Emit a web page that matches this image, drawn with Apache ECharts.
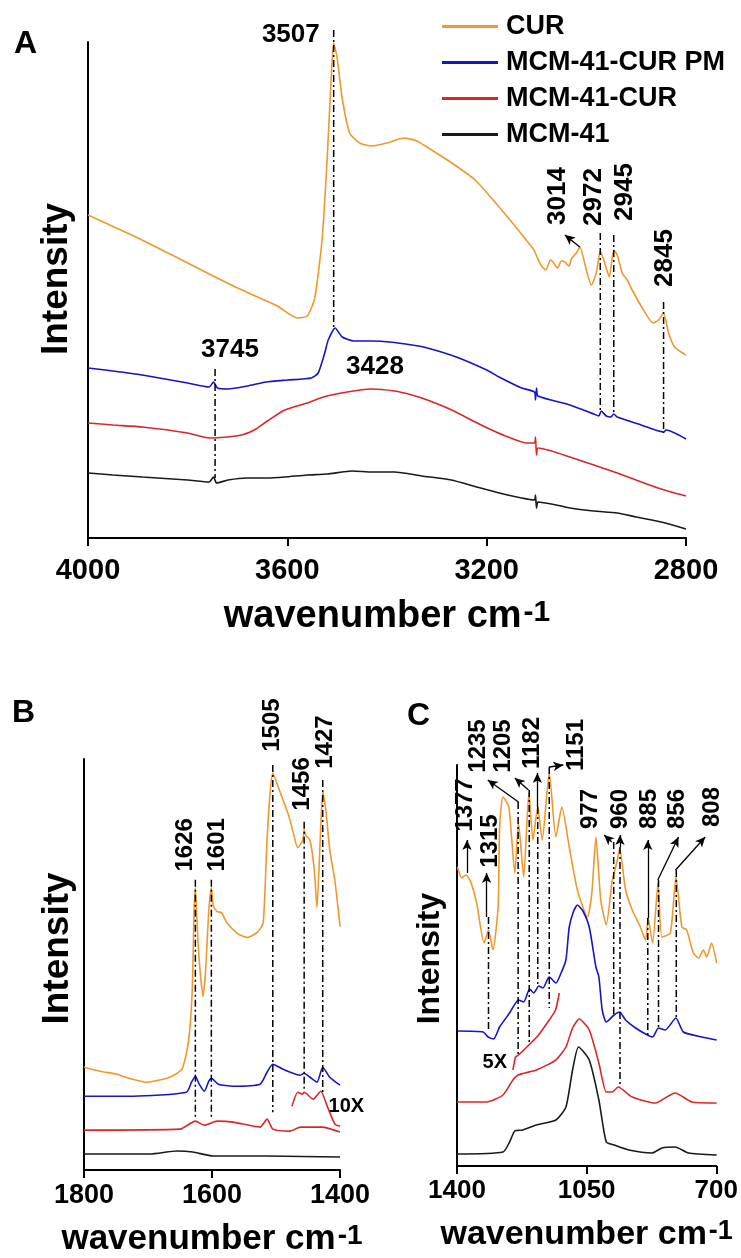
<!DOCTYPE html>
<html><head><meta charset="utf-8">
<script src="https://cdn.jsdelivr.net/npm/echarts/dist/echarts.min.js"></script>
<style>html,body{margin:0;padding:0;background:#fff}#c{width:741px;height:1258px}</style>
</head><body><div id="c"></div>
<script>
// ---------- DATA (wavenumber cm-1, relative intensity) ----------
const seriesNames = ['CUR', 'MCM-41-CUR PM', 'MCM-41-CUR', 'MCM-41'];
const seriesColors = ['#F0982B', '#1414CC', '#DC2626', '#1a1a1a'];

// Panel A: 4000-2800
const curA = [[4000,323],[3900,300],[3800,275],[3700,250],[3620,232],[3580,220],[3560,222],[3545,240],[3530,300],[3520,380],[3512,460],[3507,495],[3500,480],[3490,440],[3475,405],[3455,395],[3430,392],[3400,395],[3366,400],[3340,397],[3320,391],[3270,375],[3223,358],[3175,331],[3140,310],[3105,288],[3099,281],[3090,272],[3081,268],[3072,278],[3067,276],[3058,270],[3050,277],[3043,276],[3035,272],[3029,280],[3020,285],[3013,291],[3000,268],[2990,253],[2980,265],[2972,287],[2963,275],[2954,261],[2945,288],[2938,283],[2928,265],[2918,258],[2908,248],[2890,232],[2866,215],[2855,218],[2845,225],[2835,205],[2823,191],[2810,186],[2800,183]];
const pmA = [[4000,170],[3950,167],[3891,163],[3800,155],[3757,151],[3748,156],[3740,150],[3719,149],[3680,152],[3643,156],[3600,158],[3552,160],[3538,165],[3525,185],[3518,198],[3504,210],[3490,201],[3466,197],[3430,197],[3394,196],[3350,193],[3319,190],[3261,181],[3200,168],[3175,161],[3130,150],[3104,146],[3102,138],[3100,150],[3097,142],[3033,133],[2985,124],[2975,122],[2970,127],[2960,122],[2951,121],[2945,124],[2938,121],[2890,113],[2845,106],[2840,108],[2800,99]];
const mcmCurA = [[4000,115],[3950,113],[3891,111],[3800,105],[3757,100],[3720,101],[3692,103],[3666,108],[3640,117],[3605,128],[3560,135],[3528,141],[3480,146],[3433,149],[3385,147],[3350,143],[3319,138],[3270,128],[3223,116],[3190,108],[3157,101],[3120,95],[3104,95],[3102,101],[3100,83],[3097,90],[3070,87],[3033,81],[2985,73],[2938,65],[2900,58],[2862,51],[2830,46],[2800,42]];
const mcmA = [[4000,65],[3950,63],[3891,61],[3800,58],[3757,56],[3748,61],[3742,55],[3719,58],[3680,60],[3640,60],[3605,61],[3560,63],[3520,64],[3470,67],[3430,66],[3385,66],[3330,62],[3271,58],[3220,51],[3175,45],[3130,40],[3104,38],[3102,43],[3100,30],[3097,36],[3060,33],[3033,30],[2985,27],[2938,25],[2900,21],[2842,15],[2800,9]];

// Panel B: 1800-1400
const curB = [[1800,103],[1775,99],[1748,96],[1740,94],[1702,88],[1666,93],[1647,101],[1637,128],[1631,178],[1628,260],[1626,283],[1622,230],[1618,195],[1614,174],[1610,200],[1605,260],[1601,283],[1598,265],[1592,259],[1585,258],[1577,248],[1560,237],[1545,233],[1528,239],[1520,248],[1514,331],[1509,380],[1505,398],[1497,385],[1489,371],[1480,355],[1473,338],[1466,323],[1458,331],[1456,341],[1453,335],[1447,331],[1440,300],[1436,263],[1431,330],[1427,379],[1422,360],[1416,321],[1408,290],[1400,244]];
const pmB = [[1800,74],[1723,74],[1640,78],[1632,88],[1626,94],[1620,86],[1612,79],[1605,89],[1601,92],[1590,86],[1567,84],[1525,86],[1514,98],[1505,106],[1489,101],[1462,95],[1456,97],[1447,93],[1436,88],[1427,103],[1416,93],[1400,85]];
const mcmCurB = [[1800,40],[1650,41],[1626,49],[1612,45],[1592,49],[1567,48],[1525,43],[1514,51],[1505,41],[1478,39],[1462,43],[1428,43],[1400,38]];
const mcmCurB10x = [[1475,64],[1466,78],[1459,76],[1456,78],[1442,71],[1430,79],[1420,64],[1408,46],[1400,44]];
const mcmB = [[1800,16],[1697,16],[1655,19],[1630,18],[1598,14],[1514,14],[1400,13]];

// Panel C: 1400-700
const curC = [[1399,299],[1387,288],[1376,291],[1365,286],[1347,263],[1327,223],[1315,236],[1303,216],[1289,259],[1285,339],[1276,369],[1260,359],[1244,293],[1234,343],[1220,289],[1206,373],[1195,326],[1182,359],[1170,326],[1151,393],[1133,329],[1117,359],[1097,319],[1075,276],[1048,249],[1036,273],[1025,329],[1012,266],[997,241],[982,283],[976,293],[967,306],[961,318],[945,276],[927,256],[905,239],[891,226],[884,248],[872,223],[857,284],[847,229],[824,233],[809,289],[793,239],[780,236],[762,213],[748,208],[735,216],[726,209],[713,223],[699,203]];
const pmC = [[1399,135],[1329,134],[1316,129],[1301,127],[1285,139],[1258,153],[1234,166],[1220,164],[1204,177],[1193,173],[1179,180],[1168,178],[1151,189],[1133,183],[1119,193],[1106,206],[1097,239],[1085,255],[1075,261],[1060,255],[1043,239],[1025,199],[1017,189],[1008,156],[997,144],[976,151],[961,154],[945,146],[918,138],[886,131],[872,129],[856,138],[838,136],[809,148],[789,134],[739,129],[699,126]];
const mcmCurC = [[1400,64],[1320,64],[1276,71],[1249,86],[1235,91],[1186,96],[1133,106],[1106,119],[1088,138],[1070,147],[1043,136],[1017,103],[997,74],[981,74],[965,79],[927,69],[865,63],[811,73],[766,64],[699,63]];
const mcmCurC5x = [[1249,96],[1242,109],[1234,111],[1206,121],[1182,130],[1151,146],[1134,156],[1124,173]];
const mcmC = [[1400,12],[1276,14],[1258,24],[1244,35],[1222,36],[1186,41],[1133,46],[1106,59],[1088,96],[1072,119],[1043,106],[1017,66],[997,24],[976,21],[936,16],[874,13],[847,18],[811,19],[775,13],[699,11]];

// Axis tick settings
const axisA = {min: 2800, max: 4000, interval: 400};
const axisB = {min: 1400, max: 1800, interval: 200};
const axisC = {min: 700, max: 1400, interval: 350};

// Peak annotations: labels [wn, intensity, text, rotate], dash-dot lines [wn, from, to], arrows [[wn,y],[wn,y]]
const labelsA = [[3593,503,'3507',0],[3715,188,'3745',0],[3424,171,'3428',0],[3057,342,'3014',90],[2985,341,'2972',90],[2922,346,'2945',90],[2842,280,'2845',90]];
const linesA = [[3507,508,208],[3745,169,60],[2972,305,128],[2945,303,123],[2845,236,105]];
const arrowsA = [[[3013,291],[3043,303]]];

const labelsB = [[1642,326,'1626',90],[1591,326,'1601',90],[1505,446,'1505',90],[1459,387,'1456',90],[1423,429,'1427',90]];
const linesB = [[1626,291,53],[1601,291,53],[1505,406,58],[1456,349,81],[1427,391,78]];
const arrowsB = [];
const insetB = [[1390,64,'10X',0]];

const labelsC = [[1377,361,'1377',90],[1311,325,'1315',90],[1342,420,'1235',90],[1275,420,'1205',90],[1196,423,'1182',90],[1078,421,'1151',90],[1039,357,'977',90],[959,357,'960',90],[882,357,'885',90],[805,357,'856',90],[711,359,'808',90]];
const linesC = [[1315,249,134],[1235,364,111],[1205,376,121],[1182,359,179],[1151,399,158],[977,324,151],[960,319,79],[885,248,131],[856,286,136],[808,296,146]];
const arrowsC = [[[1373,293],[1373,326]],[[1320,249],[1320,293]],[[1234,364],[1317,386]],[[1207,376],[1244,388]],[[1183,359],[1183,393]],[[1151,399],[1113,401]],[[982,324],[1003,331]],[[960,319],[960,331]],[[885,248],[885,326]],[[858,286],[802,329]],[[810,296],[730,329]]];
const insetC = [[1298,104,'5X',0]];

// ---------- CHART ----------
const FF = '"Liberation Sans", Arial, Helvetica, sans-serif';
const chart = echarts.init(document.getElementById('c'), null, {renderer: 'canvas'});

function mkLine(name, data, color, idx) {
  return {name, type: 'line', data, xAxisIndex: idx, yAxisIndex: idx, showSymbol: false, symbol: 'none',
    smooth: 0.2, clip: false, silent: true, lineStyle: {color, width: 1.6}, itemStyle: {color}, z: 2};
}
function mkDash(idx, lines) {
  const data = [];
  lines.forEach(l => { data.push([l[0], l[1]], [l[0], l[2]], ['-', '-']); });
  return {name: 'peak lines', type: 'line', data, xAxisIndex: idx, yAxisIndex: idx, showSymbol: false, symbol: 'none',
    connectNulls: false, clip: false, silent: true, z: 4,
    lineStyle: {color: '#000', width: 1.5, type: [7, 3, 2, 3]}};
}
function mkAnn(idx, labels, arrows, fs) {
  const data = labels.map(l => ({value: [l[0], l[1]], name: l[2],
    label: {rotate: l[3], fontSize: l[4] || fs, color: '#000', opacity: 1}}));
  const ml = arrows.map(a => [{coord: a[0], symbol: 'none'},
                              {coord: a[1], symbol: 'arrow', symbolSize: [7, 10]}]);
  return {name: 'peak labels', type: 'scatter', xAxisIndex: idx, yAxisIndex: idx, symbolSize: 0, clip: false, silent: true, z: 5,
    itemStyle: {opacity: 1}, data,
    label: {show: true, position: 'inside', formatter: '{b}', color: '#000', opacity: 1, fontWeight: 'bold', fontFamily: FF, fontSize: fs},
    markLine: {silent: true, symbol: ['none', 'none'], animation: false, label: {show: false},
      emphasis: {disabled: true},
      lineStyle: {color: '#000', width: 1.3, type: 'solid', opacity: 1}, data: ml}};
}
function xAx(idx, ax, tickFs, nameFs, supFs, nameGap, margin) {
  return {type: 'value', gridIndex: idx, inverse: true, min: ax.min, max: ax.max, interval: ax.interval,
    axisLine: {onZero: false, lineStyle: {color: '#000', width: 2}},
    axisTick: {show: true, length: 8, lineStyle: {color: '#000', width: 2}},
    axisLabel: {color: '#000', fontFamily: FF, fontWeight: 'bold', fontSize: tickFs, margin,
      formatter: v => String(v)},
    splitLine: {show: false},
    name: '{a|wavenumber cm}{s|-1}', nameLocation: 'middle', nameGap,
    nameTextStyle: {color: '#000', fontFamily: FF, rich: {
      a: {fontSize: nameFs, fontWeight: 'bold', fontFamily: FF, color: '#000'},
      s: {fontSize: supFs, fontWeight: 'bold', fontFamily: FF, color: '#000', verticalAlign: 'top', padding: [0, 0, 0, 2]}}}};
}
function yAx(idx, max, gap, fs, shift) {
  return {type: 'value', gridIndex: idx, min: 0, max,
    axisLine: {show: true, lineStyle: {color: '#000', width: 2}},
    axisTick: {show: false}, axisLabel: {show: false}, splitLine: {show: false},
    name: 'Intensity', nameLocation: 'middle', nameGap: gap,
    nameTextStyle: {color: '#000', fontFamily: FF, fontWeight: 'bold', fontSize: fs, padding: [0, 0, 0, shift]}};
}

const series = [];
[[curA, pmA, mcmCurA, mcmA], [curB, pmB, mcmCurB, mcmB], [curC, pmC, mcmCurC, mcmC]].forEach((set, idx) => {
  set.forEach((d, k) => series.push(mkLine(seriesNames[k], d, seriesColors[k], idx)));
});
series.push(mkLine('MCM-41-CUR 10X', mcmCurB10x, seriesColors[2], 1));
series.push(mkLine('MCM-41-CUR 5X', mcmCurC5x, seriesColors[2], 2));
series.push(mkDash(0, linesA), mkDash(1, linesB), mkDash(2, linesC));
series.push(mkAnn(0, labelsA, arrowsA, 26));
series.push(mkAnn(1, labelsB.concat(insetB.map(l => l.concat([20]))), arrowsB, 24));
series.push(mkAnn(2, labelsC.concat(insetC.map(l => l.concat([20]))), arrowsC, 24));

chart.setOption({
  animation: false,
  backgroundColor: '#fff',
  grid: [
    {left: 88, top: 42, width: 598, height: 496},
    {left: 84, top: 759, width: 256, height: 412},
    {left: 457, top: 765, width: 261, height: 401}
  ],
  xAxis: [xAx(0, axisA, 29, 38, 30, 60, 18), xAx(1, axisB, 27, 35, 28, 52, 12), xAx(2, axisC, 26, 34, 27, 52, 12)],
  yAxis: [yAx(0, 496, 13, 37, 22), yAx(1, 412, 8, 37, 32), yAx(2, 401, 11, 32, 14)],
  legend: {data: seriesNames, orient: 'vertical', left: 437, top: 8, itemWidth: 56, itemHeight: 3, itemGap: 9,
    icon: 'rect', selectedMode: false,
    textStyle: {color: '#000', fontFamily: FF, fontWeight: 'bold', fontSize: 27, lineHeight: 26, padding: [0, 0, 0, 3]}},
  graphic: [
    {type: 'text', left: 14, top: 28, style: {text: 'A', font: 'bold 32px ' + FF, fill: '#000'}},
    {type: 'text', left: 12, top: 697, style: {text: 'B', font: 'bold 32px ' + FF, fill: '#000'}},
    {type: 'text', left: 407, top: 700, style: {text: 'C', font: 'bold 32px ' + FF, fill: '#000'}}
  ],
  series
});
</script></body></html>
